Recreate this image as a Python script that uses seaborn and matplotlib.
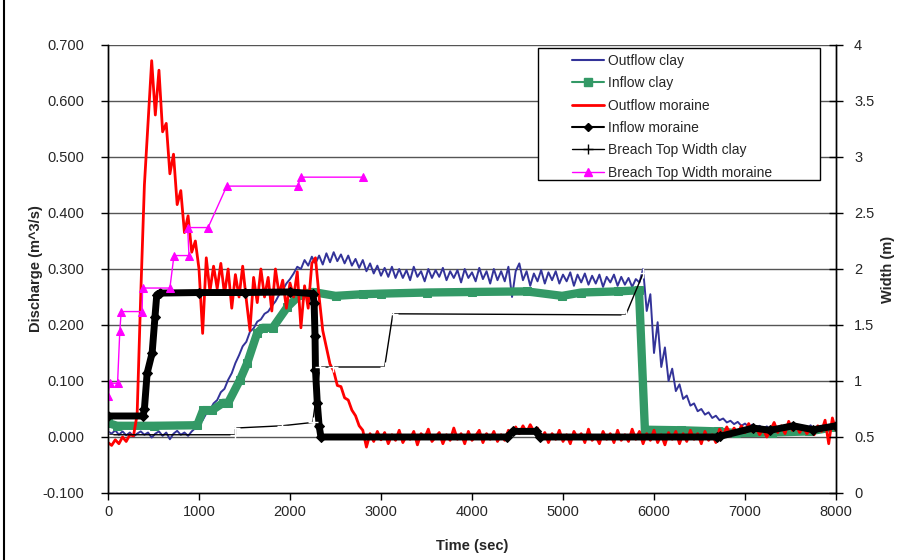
import numpy as np
import matplotlib
matplotlib.use("Agg")
import matplotlib.pyplot as plt
from matplotlib.patches import Rectangle
from matplotlib.lines import Line2D
import seaborn as sns

# ---------------------------------------------------------------------------
# data
# ---------------------------------------------------------------------------
# the two outflow records, sampled every 40 s
t_out = np.arange(0, 8001, 40)

q_out_clay = [
    0.010, 0.006, 0.012, 0.004, 0.010, 0.003, 0.008, 0.001, 0.006, 0.010,
    0.004, 0.008, -0.001, 0.006, 0.010, 0.002, 0.008, -0.004, 0.006, 0.011,
    0.004, 0.008, 0.002, 0.010, 0.016, 0.025, 0.030, 0.042, 0.048, 0.060,
    0.066, 0.080, 0.086, 0.102, 0.114, 0.132, 0.146, 0.162, 0.170, 0.188,
    0.194, 0.206, 0.210, 0.220, 0.224, 0.234, 0.242, 0.254, 0.262, 0.274,
    0.282, 0.292, 0.304, 0.300, 0.316, 0.306, 0.322, 0.310, 0.324, 0.308,
    0.328, 0.312, 0.330, 0.314, 0.326, 0.310, 0.324, 0.306, 0.318, 0.302,
    0.316, 0.296, 0.310, 0.292, 0.306, 0.288, 0.302, 0.286, 0.304, 0.284,
    0.300, 0.284, 0.298, 0.280, 0.304, 0.286, 0.296, 0.278, 0.300, 0.284,
    0.298, 0.286, 0.302, 0.280, 0.296, 0.284, 0.298, 0.276, 0.300, 0.284,
    0.294, 0.278, 0.302, 0.282, 0.296, 0.274, 0.300, 0.280, 0.296, 0.278,
    0.304, 0.250, 0.296, 0.310, 0.280, 0.296, 0.270, 0.292, 0.278, 0.298,
    0.274, 0.294, 0.280, 0.296, 0.274, 0.290, 0.278, 0.294, 0.270, 0.290,
    0.276, 0.292, 0.272, 0.288, 0.274, 0.290, 0.268, 0.286, 0.276, 0.290,
    0.270, 0.286, 0.272, 0.284, 0.268, 0.282, 0.276, 0.300, 0.225, 0.255,
    0.150, 0.205, 0.125, 0.160, 0.100, 0.122, 0.082, 0.094, 0.068, 0.074,
    0.056, 0.060, 0.046, 0.050, 0.040, 0.044, 0.034, 0.038, 0.030, 0.033,
    0.026, 0.029, 0.023, 0.027, 0.020, 0.024, 0.018, 0.022, 0.016, 0.020,
    0.015, 0.019, 0.013, 0.018, 0.012, 0.019, 0.014, 0.021, 0.012, 0.017,
    0.014, 0.019, 0.012, 0.021, 0.014, 0.018, 0.016, 0.023, 0.014, 0.025,
    0.020,
]

q_out_moraine = [
    -0.010, -0.015, -0.005, -0.012, 0.000, -0.008, 0.004, 0.002, 0.040, 0.255,
    0.450, 0.560, 0.672, 0.575, 0.655, 0.545, 0.560, 0.470, 0.505, 0.415,
    0.440, 0.365, 0.395, 0.330, 0.350, 0.300, 0.185, 0.320, 0.260, 0.305,
    0.265, 0.310, 0.255, 0.300, 0.230, 0.290, 0.250, 0.305, 0.245, 0.190,
    0.285, 0.240, 0.300, 0.250, 0.285, 0.225, 0.300, 0.255, 0.280, 0.230,
    0.275, 0.250, 0.295, 0.195, 0.270, 0.230, 0.310, 0.320, 0.250, 0.190,
    0.160, 0.130, 0.118, 0.092, 0.090, 0.070, 0.066, 0.048, 0.038, 0.020,
    0.012, -0.018, 0.006, -0.008, 0.010, -0.005, 0.008, -0.012, 0.004, -0.006,
    0.012, -0.010, 0.002, -0.004, 0.010, -0.014, 0.006, -0.002, 0.014, -0.008,
    0.000, 0.008, -0.012, 0.004, -0.006, 0.016, -0.004, 0.006, -0.012, 0.010,
    -0.006, 0.002, 0.012, -0.010, 0.006, -0.004, 0.010, -0.008, 0.004, -0.006,
    0.012, 0.004, 0.018, 0.006, 0.020, 0.008, 0.022, 0.010, 0.016, -0.004,
    0.008, -0.010, 0.006, -0.004, 0.012, -0.008, 0.004, -0.012, 0.010, -0.002,
    0.006, -0.010, 0.014, -0.006, 0.002, -0.012, 0.010, -0.004, 0.006, -0.010,
    0.012, -0.006, 0.004, -0.008, 0.014, -0.004, 0.010, -0.012, 0.006, -0.006,
    0.012, -0.010, 0.004, -0.014, 0.008, -0.004, 0.010, -0.012, 0.006, -0.008,
    0.012, -0.004, 0.006, -0.012, 0.010, -0.006, 0.004, -0.010, 0.014, 0.002,
    0.018, 0.004, 0.016, 0.006, 0.020, 0.008, 0.024, 0.010, 0.018, 0.004,
    0.014, 0.000, 0.012, 0.026, 0.008, 0.020, 0.006, 0.028, 0.012, 0.022,
    0.008, 0.018, 0.006, 0.014, 0.004, 0.020, 0.010, 0.030, -0.012, 0.034,
    0.012,
]

t_in_clay = [0, 100, 500, 980, 1045, 1145, 1265, 1320, 1450, 1530, 1640, 1700,
             1810, 1970, 2110, 2250, 2500, 2800, 3000, 3500, 4000, 4600, 4990,
             5200, 5600, 5835, 5900, 6300, 6700, 6900, 7300, 7700, 8000]
q_in_clay = [0.025, 0.020, 0.020, 0.021, 0.048, 0.048, 0.061, 0.061, 0.102,
             0.132, 0.186, 0.195, 0.195, 0.232, 0.254, 0.259, 0.252, 0.255,
             0.256, 0.258, 0.259, 0.260, 0.252, 0.258, 0.260, 0.262, 0.013,
             0.012, 0.010, 0.007, 0.008, 0.010, 0.018]

t_in_moraine = [0, 385, 400, 430, 485, 516, 536, 571, 1000, 1500, 2000, 2250,
                2265, 2275, 2280, 2300, 2320, 2340, 4385, 4450, 4700, 4750,
                6690, 6720, 7090, 7275, 7530, 7750, 8000]
q_in_moraine = [0.0375, 0.0375, 0.050, 0.114, 0.150, 0.214, 0.254, 0.257,
                0.258, 0.258, 0.259, 0.256, 0.240, 0.180, 0.120, 0.060, 0.020,
                0.000, 0.000, 0.010, 0.010, 0.000, 0.000, 0.001, 0.016, 0.012,
                0.020, 0.013, 0.020]

t_w_clay = [0, 1400, 1400, 1910, 2250, 2330, 2470, 3040, 3130, 5690, 5880]
w_clay = [0.52, 0.52, 0.58, 0.60, 0.63, 1.125, 1.125, 1.125, 1.60, 1.59, 1.96]

t_w_moraine = [0, 20, 105, 130, 145, 375, 380, 680, 725, 890, 875, 1100, 1305,
               2085, 2120, 2800]
w_moraine = [0.87, 0.98, 0.98, 1.45, 1.62, 1.62, 1.83, 1.83, 2.12, 2.12, 2.37,
             2.37, 2.74, 2.74, 2.82, 2.82]

labels = ["Outflow clay", "Inflow clay", "Outflow moraine", "Inflow moraine",
          "Breach Top Width clay", "Breach Top Width moraine"]

# ---------------------------------------------------------------------------
sns.set_theme(style="white")
plt.rcParams['font.family'] = ['Liberation Sans', 'DejaVu Sans']

W, H = 897, 560
fig = plt.figure(figsize=(W / 100, H / 100), dpi=100)
ax = fig.add_axes([108 / W, 1 - 493 / H, 728 / W, 448 / H])

c_blue, c_green, c_red, c_mag = "#333399", "#339966", "#ff0000", "#ff00ff"

kw = dict(estimator=None, sort=False, ax=ax, legend=False)
sns.lineplot(x=t_out, y=q_out_clay, color=c_blue, lw=1.4, **kw)
sns.lineplot(x=t_in_clay, y=q_in_clay, color=c_green, lw=6, marker="s",
             ms=6, mec=c_green, **kw)
sns.lineplot(x=t_out, y=q_out_moraine, color=c_red, lw=2.0, **kw)
sns.lineplot(x=t_in_moraine, y=q_in_moraine, color="black", lw=5, marker="D",
             ms=5, mec="black", **kw)

ax2 = ax.twinx()
kw2 = dict(estimator=None, sort=False, ax=ax2, legend=False)
sns.lineplot(x=t_w_clay, y=w_clay, color="black", lw=1.0, marker="+", ms=7,
             mew=1.0, **kw2)
sns.lineplot(x=t_w_moraine, y=w_moraine, color=c_mag, lw=1.0, marker="^",
             ms=6, mec=c_mag, **kw2)

# axes
ax.set_xlim(0, 8000)
ax.set_ylim(-0.1, 0.7)
ax2.set_ylim(0, 4)
ax.set_xticks(range(0, 8001, 1000))
yt = np.round(np.arange(-0.1, 0.701, 0.1), 3)
ax.set_yticks(yt)
ax.set_yticklabels(["%.3f" % v for v in yt])
ax2.set_yticks(np.arange(0, 4.01, 0.5))
ax2.set_yticklabels(["0", "0.5", "1", "1.5", "2", "2.5", "3", "3.5", "4"])

for a in (ax, ax2):
    for s in a.spines.values():
        s.set_color("black")
        s.set_linewidth(1.0)
    a.spines["top"].set_visible(False)
ax.set_axisbelow(True)
for v in yt[1:]:
    ax.axhline(v, color="#555555", lw=1.0, zorder=0)

ax.tick_params(axis="x", direction="out", length=5, width=1, color="black",
               labelsize=10.5, pad=4, bottom=True)
ax.tick_params(axis="y", direction="out", length=5, width=1, color="black",
               labelsize=10.5, pad=12, left=True)
ax2.tick_params(axis="y", direction="inout", length=10, width=1, color="black",
                labelsize=10.5, pad=8, right=True)

ax.set_xlabel("Time (sec)", fontsize=10.5, fontweight="bold")
ax.set_ylabel("Discharge (m^3/s)", fontsize=10.5, fontweight="bold")
ax2.set_ylabel("Width (m)", fontsize=10.5, fontweight="bold")
ax.xaxis.set_label_coords(0.5, (493 - 539) / 448)
ax.yaxis.set_label_coords((43 - 108) / 728, 0.5)
ax2.yaxis.set_label_coords((881 - 108) / 728, 0.5)

# legend: thin sample lines as in the original, boxed separately
handles = [
    Line2D([], [], color=c_blue, lw=1.5),
    Line2D([], [], color=c_green, lw=1.5, marker="s", ms=6),
    Line2D([], [], color=c_red, lw=2.0),
    Line2D([], [], color="black", lw=1.5, marker="D", ms=4.5),
    Line2D([], [], color="black", lw=1.0, marker="+", ms=7, mew=1.0),
    Line2D([], [], color=c_mag, lw=1.0, marker="^", ms=6, mec=c_mag),
]
fig.patches.append(Rectangle((538 / W, 1 - 180 / H), 282 / W, 132 / H,
                             transform=fig.transFigure, facecolor="white",
                             edgecolor="black", lw=1.0, zorder=5))
leg = fig.legend(handles, labels, loc="upper left",
                 bbox_to_anchor=(572 / W, 1 - 54 / H), frameon=False,
                 fontsize=10, handlelength=2.3, handletextpad=0.3,
                 labelspacing=0.6, borderpad=0.0, borderaxespad=0.0)
leg.set_zorder(6)

# chart border (left edge of the chart area)
fig.add_artist(Line2D([3.5 / W, 3.5 / W], [0, 1], transform=fig.transFigure,
                      color="black", lw=1.5))

fig.savefig("out.png", dpi=100)
